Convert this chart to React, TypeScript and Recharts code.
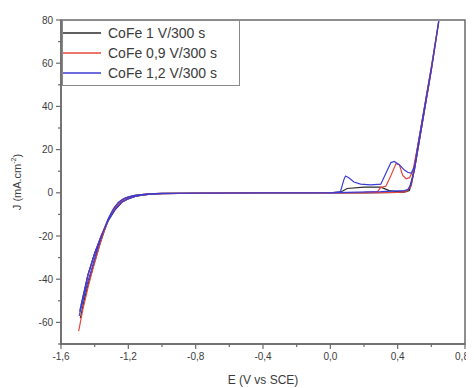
import React from 'react';
import { LineChart, Line, XAxis, YAxis, ReferenceArea } from 'recharts';

// ---- data (E in V vs SCE, J in mA.cm-2) ----
const seriesNames = ['CoFe 1 V/300 s', 'CoFe 0,9 V/300 s', 'CoFe 1,2 V/300 s'];

const blackE = [-1.485, -1.46, -1.43, -1.40, -1.37, -1.34, -1.31, -1.28, -1.25, -1.22, -1.19, -1.16, -1.12, -1.08, -1.0, -0.8, -0.4, 0.0, 0.06, 0.1, 0.2, 0.3, 0.35, 0.4, 0.45, 0.47, 0.49, 0.52, 0.56, 0.6, 0.643,
  0.6, 0.55, 0.5, 0.47, 0.44, 0.4, 0.3, 0.2, 0.1, 0.0, -0.4, -0.8, -1.0, -1.08, -1.12, -1.16, -1.2, -1.24, -1.28, -1.32, -1.36, -1.40, -1.44, -1.48];
const blackJ = [-58, -49, -40, -32, -24, -17, -11, -6.5, -4, -2.6, -1.8, -1.2, -0.8, -0.5, -0.3, -0.15, -0.05, 0, 0.3, 2, 2.6, 2.6, 1, 0.5, 0.8, 2, 8, 22, 40, 58, 79,
  57, 34, 11, 1, 0.3, 0.2, 0.1, 0, 0, 0, 0, -0.2, -0.4, -0.7, -1.1, -1.7, -2.8, -4.5, -8, -13, -20, -28, -38, -52];

const redE = [-1.495, -1.47, -1.44, -1.41, -1.38, -1.35, -1.32, -1.29, -1.26, -1.23, -1.2, -1.16, -1.12, -1.08, -1.0, -0.8, -0.4, 0.0, 0.2, 0.28, 0.3, 0.33, 0.36, 0.39, 0.41, 0.43, 0.45, 0.47, 0.49, 0.52, 0.56, 0.6, 0.645,
  0.6, 0.55, 0.5, 0.48, 0.45, 0.4, 0.3, 0.1, 0.0, -0.4, -0.8, -1.0, -1.08, -1.12, -1.16, -1.2, -1.24, -1.28, -1.32, -1.36, -1.40, -1.44, -1.48];
const redJ = [-64, -54, -44, -35, -27, -19, -13, -8, -4.8, -3, -2, -1.3, -0.8, -0.5, -0.3, -0.15, -0.05, 0, 0.2, 0.5, 2.5, 3, 8, 13.5, 13, 8, 6.5, 7, 10, 22, 40, 58, 79.5,
  57, 34, 11, 3, 0.5, 0.2, 0.1, 0, 0, 0, -0.2, -0.4, -0.7, -1.1, -1.7, -2.6, -4.2, -7.5, -12.5, -19.5, -28, -38, -53];

const blueE = [-1.492, -1.47, -1.44, -1.41, -1.38, -1.35, -1.32, -1.29, -1.26, -1.23, -1.2, -1.16, -1.12, -1.08, -1.0, -0.8, -0.4, 0.0, 0.06, 0.08, 0.09, 0.11, 0.14, 0.18, 0.24, 0.3, 0.33, 0.36, 0.38, 0.41, 0.44, 0.46, 0.48, 0.5, 0.53, 0.57, 0.61, 0.644,
  0.6, 0.55, 0.5, 0.48, 0.46, 0.44, 0.3, 0.1, 0.0, -0.4, -0.8, -1.0, -1.08, -1.12, -1.16, -1.2, -1.24, -1.28, -1.32, -1.36, -1.40, -1.44, -1.49];
const blueJ = [-57, -50, -41, -33, -25, -18, -12, -7.5, -4.5, -2.8, -1.9, -1.2, -0.8, -0.5, -0.3, -0.15, -0.05, 0, 0.5, 6, 7.8, 7, 5, 4, 3.7, 4, 9, 14, 14.5, 13, 10.5, 9.5, 9, 12, 26, 44, 62, 79.5,
  57, 34, 11, 4, 1.5, 1, 0.5, 0.2, 0, 0, -0.2, -0.4, -0.7, -1.1, -1.7, -2.7, -4.3, -7.8, -12.8, -19.8, -28, -38, -55];

const xTicks = [-1.6, -1.4, -1.2, -1.0, -0.8, -0.6, -0.4, -0.2, 0.0, 0.2, 0.4, 0.6, 0.8];
const yTicks = [-70, -60, -50, -40, -30, -20, -10, 0, 10, 20, 30, 40, 50, 60, 70, 80];

const colors = ['#2b2b2b', '#e8473e', '#3b3bd6'];

const toPts = (e: number[], j: number[]) => e.map((x, i) => ({ e: x, j: j[i] }));
const seriesData = [toPts(blackE, blackJ), toPts(redE, redJ), toPts(blueE, blueJ)];

const FONT = '"Liberation Sans", Arial, sans-serif';
const AXIS = '#6a6a6a';
const TXT = '#3c3c3c';

const fmt = (v: number) => v.toFixed(1).replace('.', ',');

const XTick = (props: any) => {
  const { x, y, payload } = props;
  const v = payload.value;
  const major = Math.abs(v / 0.4 - Math.round(v / 0.4)) < 1e-6;
  return (
    <g>
      <line x1={x} x2={x} y1={y} y2={y + (major ? 5 : 3)} stroke={AXIS} strokeWidth={1.2} />
      {major && (
        <text x={v > 0.7 ? x - 3 : x} y={y + 16} textAnchor="middle" fontSize={10} fontFamily={FONT} fill={TXT}>
          {fmt(v)}
        </text>
      )}
    </g>
  );
};

const YTick = (props: any) => {
  const { x, y, payload } = props;
  const v = payload.value;
  const major = v % 20 === 0;
  return (
    <g>
      <line x1={x} x2={x - (major ? 5 : 3)} y1={y} y2={y} stroke={AXIS} strokeWidth={1.2} />
      {major && (
        <text x={x - 8} y={y + 3.5} textAnchor="end" fontSize={10} fontFamily={FONT} fill={TXT}>
          {v}
        </text>
      )}
    </g>
  );
};

const YLabel = (props: any) => {
  const vb = props.viewBox || {};
  const cy = (vb.y ?? 12) + (vb.height ?? 324) / 2;
  const cx = 9;
  return (
    <text
      x={cx}
      y={cy}
      transform={`rotate(-90 ${cx} ${cy})`}
      textAnchor="middle"
      dominantBaseline="central"
      fontSize={11}
      fontFamily={FONT}
      fill={TXT}
    >
      J (mA.cm
      <tspan fontSize={7} dy={-4}>-2</tspan>
      <tspan dy={4}>)</tspan>
    </text>
  );
};

const LegendBox = () => (
  <div
    style={{
      position: 'absolute',
      left: 54,
      top: 12,
      width: 176,
      height: 64,
      border: '1px solid #8a8a8a',
      background: '#fff',
      fontFamily: FONT,
      fontSize: 14,
      color: TXT,
    }}
  >
    {seriesNames.map((n, i) => (
      <div key={n} style={{ display: 'flex', alignItems: 'center', height: 20, marginTop: i === 0 ? 2 : 0 }}>
        <svg width={38} height={4} style={{ marginRight: 7, display: 'block' }}>
          <line x1={0} x2={38} y1={2} y2={2} stroke={colors[i]} strokeWidth={1.5} />
        </svg>
        <span style={{ whiteSpace: 'nowrap' }}>{n}</span>
      </div>
    ))}
  </div>
);

export default function App() {
  return (
    <div style={{ width: 466, height: 380, position: 'relative' }}>
      <LineChart width={466} height={380} margin={{ top: 12, right: 9, left: 0, bottom: 0 }} style={{ overflow: 'visible' }}>
        <XAxis
          dataKey="e"
          type="number"
          domain={[-1.6, 0.8]}
          ticks={xTicks}
          allowDataOverflow
          interval={0}
          height={44}
          tickSize={0}
          tickMargin={0}
          tickLine={false}
          axisLine={{ stroke: AXIS, strokeWidth: 1.5 }}
          tick={<XTick />}
          label={{ value: 'E (V vs SCE)', position: 'insideBottom', offset: 4, fontSize: 12, fontFamily: FONT, fill: TXT }}
        />
        <YAxis
          dataKey="j"
          type="number"
          domain={[-70, 80]}
          ticks={yTicks}
          allowDataOverflow
          interval={0}
          width={53}
          tickSize={0}
          tickMargin={0}
          tickLine={false}
          axisLine={{ stroke: AXIS, strokeWidth: 1.5 }}
          tick={<YTick />}
          label={<YLabel />}
        />
        <ReferenceArea x1={-1.6} x2={0.8} y1={-70} y2={80} fill="none" stroke={AXIS} strokeWidth={1.5} ifOverflow="visible" />
        {seriesData.map((d, i) => (
          <Line
            key={seriesNames[i]}
            data={d}
            dataKey="j"
            name={seriesNames[i]}
            type="linear"
            stroke={colors[i]}
            strokeWidth={1.2}
            dot={false}
            isAnimationActive={false}
          />
        ))}
      </LineChart>
      <LegendBox />
    </div>
  );
}
